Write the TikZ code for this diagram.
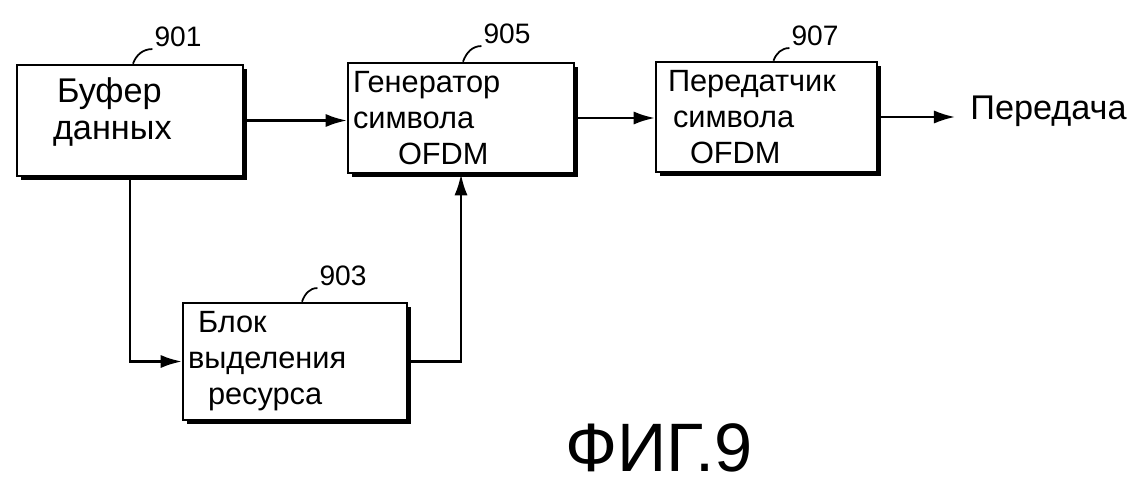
\documentclass[tikz,border=0pt]{standalone}
\usepackage{fontspec}
\setmainfont{Liberation Sans}
\usepackage{tikz}
\usetikzlibrary{shapes, shadows, arrows.meta}
\tikzstyle{line} = [draw, line width=1.3pt, -{Latex[length=12pt, width=7.5pt]}]
\tikzstyle{block} = [draw, rectangle, line width=1.5pt, fill=white, align=left, inner xsep=0.1cm, font=\fontsize{17.5}{20.5}\selectfont, drop shadow={shadow xshift=2.4pt, shadow yshift=-2.4pt, fill=black, opacity=1}]
\tikzstyle{tag} = [font=\fontsize{16}{16}\selectfont, inner sep=1pt]
\tikzstyle{lead} = [draw, line width=1pt]

\begin{document}
\begin{tikzpicture}
		\useasboundingbox (0,0) rectangle (22.9,-9.7);
		\node[block, text width=4.32cm, minimum height=2.22cm, font=\fontsize{19.5}{21.5}\selectfont] (buf) at (2.6,-2.41) {\hspace*{0.7cm}Буфер\\\hspace*{0.62cm}данных\\[-8pt]\mbox{}};
		\node[block, text width=4.32cm, minimum height=2.2cm, right of=buf, xshift=5.62cm, yshift=0.05cm] (gen) {Генератор\\символа\\\hspace*{0.9cm}OFDM};
		\node[block, text width=4.22cm, minimum height=2.2cm, right of=gen, xshift=5.11cm, yshift=0.02cm] (tx) {\hspace*{0.14cm}Передатчик\\\hspace*{0.24cm}символа\\\hspace*{0.58cm}OFDM};
		\node[block, text width=4.28cm, minimum height=2.34cm, below of=buf, xshift=3.3cm, yshift=-3.82cm] (alloc) {\hspace*{0.2cm}Блок\\выделения\\\hspace*{0.4cm}ресурса};
		\node[tag, above of=buf, xshift=0.96cm, yshift=0.67cm] (n901) {901};
		\node[tag, above of=gen, xshift=0.92cm, yshift=0.68cm] (n905) {905};
		\node[tag, above of=tx, xshift=0.97cm, yshift=0.62cm] (n907) {907};
		\node[tag, above of=alloc, xshift=0.96cm, yshift=0.71cm] (n903) {903};
		\draw[lead] ([xshift=0.06cm]buf.north) to[out=70, in=180] (n901.south west);
		\draw[lead] ([xshift=0.04cm]gen.north) to[out=70, in=180] (n905.south west);
		\draw[lead] ([xshift=0.14cm]tx.north) to[out=70, in=180] (n907.south west);
		\draw[lead] ([xshift=0.14cm]alloc.north) to[out=70, in=180] (n903.south west);
		\coordinate[right of=tx, xshift=2.77cm] (out);
		\node[font=\fontsize{19.5}{19.5}\selectfont, anchor=base west, inner sep=0pt] (send) at ([xshift=0.3cm, yshift=-0.04cm]out) {Передача};
		\draw[line] (buf.east) -- (buf.east -| gen.west);
		\draw[line] (buf.south) |- (alloc.west);
		\draw[line] (alloc.east) -| (gen.south);
		\draw[line] (gen.east) -- (gen.east -| tx.west);
		\draw[line] (tx.east) -- (out);
		\node[font=\fontsize{39}{39}\selectfont] (fig) at (13.18,-8.95) {ФИГ.9};
	\end{tikzpicture}
\end{document}
